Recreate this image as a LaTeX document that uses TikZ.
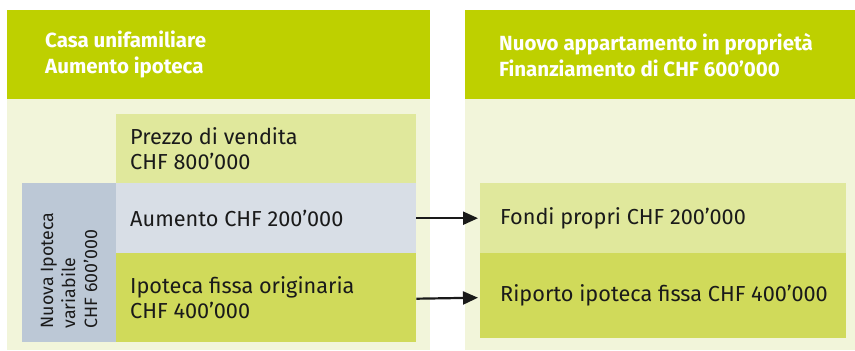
\documentclass[tikz,border=0pt]{standalone}
\usepackage{fontspec}
\setmainfont{Fira Sans}
\usetikzlibrary{positioning,arrows.meta}
\definecolor{headlime}{RGB}{190,208,0}
\definecolor{bglight}{RGB}{242,245,218}
\definecolor{paleg}{RGB}{224,232,156}
\definecolor{midg}{RGB}{208,218,90}
\definecolor{palebl}{RGB}{216,222,230}
\definecolor{midbl}{RGB}{188,200,214}
\definecolor{ink}{RGB}{26,26,26}

\begin{document}
\begin{tikzpicture}[x=1pt, y=-1pt,
  panel/.style = {anchor=north west, inner sep=0pt, fill=bglight},
  headbox/.style = {anchor=north west, inner sep=0pt, fill=headlime, minimum height=89pt},
  headtext/.style = {anchor=west, align=left, inner sep=0pt, text=white, font=\bfseries\fontsize{20.5}{26}\selectfont},
  cellbox/.style = {anchor=north west, inner sep=0pt},
  celltext/.style = {anchor=west, align=left, inner sep=0pt, text=ink, font=\fontsize{21.7}{25}\selectfont},
  flow/.style = {-{Triangle[length=15pt,width=13pt]}, line width=2.2pt, ink}]
\useasboundingbox (0,0) rectangle (855,351);
% left panel
\node[panel, minimum width=423pt, minimum height=251pt] (bodyL) at (7,99) {};
\node[headbox, minimum width=423pt] (headL) at (7,10) {};
\node[headtext, right=38pt of headL.west] (titleL) {Casa unifamiliare\\Aumento ipoteca};
\node[cellbox, fill=paleg, minimum width=300pt, minimum height=69pt] (prezzo) at (116,114) {};
\node[cellbox, fill=palebl, minimum width=300pt, minimum height=70pt] (aumento) at (116,183) {};
\node[cellbox, fill=midg, minimum width=300pt, minimum height=89pt] (fissa) at (116,253) {};
\node[cellbox, fill=midbl, minimum width=94pt, minimum height=159pt] (nuova) at (22,183) {};
\node[celltext, right=14pt of prezzo.west] (prezzotext) {Prezzo di vendita\\CHF 800’000};
\node[celltext, right=14pt of aumento.west] (aumentotext) {Aumento CHF 200’000};
\node[celltext, right=14pt of fissa.west] (fissatext) {Ipoteca fissa originaria\\CHF 400’000};
\node[celltext, rotate=90, font=\fontsize{17.8}{22}\selectfont] (nuovatext) at ([yshift=14pt]nuova.south) {Nuova Ipoteca\\variabile\\CHF 600’000};
% right panel
\node[panel, minimum width=390pt, minimum height=251pt] (bodyR) at (465,99) {};
\node[headbox, minimum width=390pt] (headR) at (465,10) {};
\node[headtext, right=34pt of headR.west] (titleR) {Nuovo appartamento in proprietà\\Finanziamento di CHF 600’000};
\node[cellbox, fill=paleg, minimum width=366pt, minimum height=70pt] (fondi) at (480,183) {};
\node[cellbox, fill=midg, minimum width=366pt, minimum height=85pt] (riporto) at (480,253) {};
\node[celltext, right=20pt of fondi.west] (fonditext) {Fondi propri CHF 200’000};
\node[celltext, right=20pt of riporto.west] (riportotext) {Riporto ipoteca fissa CHF 400’000};
% arrows
\draw[flow] (aumento.east) -- ([xshift=-2pt]fondi.west);
\draw[flow] ([yshift=-1pt]fissa.east) -- ([xshift=-2pt]fissa.east -| riporto.west);
\end{tikzpicture}
\end{document}
